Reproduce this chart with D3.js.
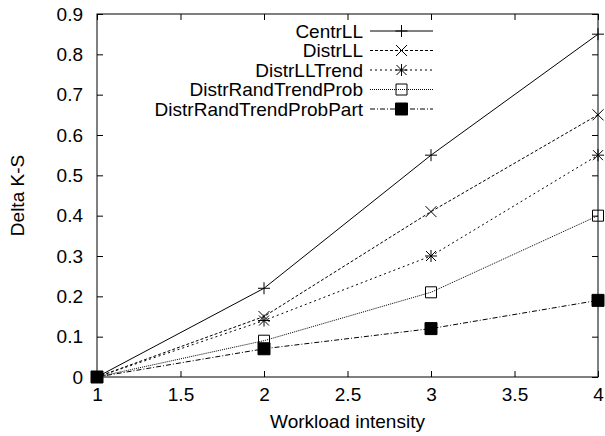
<!DOCTYPE html>
<html>
<head>
<meta charset="utf-8">
<script src="https://d3js.org/d3.v7.min.js"></script>
<style>
  body { margin: 0; background: #fff; }
  svg { display: block; font-family: "Liberation Sans", Arial, sans-serif; }
  .axis text { font-size: 19px; fill: #000; }
  .axis line { stroke: #000; }
  .axis path { display: none; }
</style>
</head>
<body>
<script>
var width = 605, height = 436;

// data
var workload = [1, 2, 3, 4];
var seriesNames = ["CentrLL", "DistrLL", "DistrLLTrend", "DistrRandTrendProb", "DistrRandTrendProbPart"];
var centrLL = [0, 0.22, 0.55, 0.85];
var distrLL = [0, 0.15, 0.41, 0.65];
var distrLLTrend = [0, 0.14, 0.30, 0.55];
var distrRandTrendProb = [0, 0.09, 0.21, 0.40];
var distrRandTrendProbPart = [0, 0.07, 0.12, 0.19];
var xTicks = [1, 1.5, 2, 2.5, 3, 3.5, 4];
var yTicks = [0, 0.1, 0.2, 0.3, 0.4, 0.5, 0.6, 0.7, 0.8, 0.9];

var allValues = [centrLL, distrLL, distrLLTrend, distrRandTrendProb, distrRandTrendProbPart];
var dashes = [null, "3,2", "2,3", "1,1", "5,2,1,2"];
var markers = ["plus", "cross", "star", "box", "fbox"];

var plotL = 97, plotR = 598, plotT = 14, plotB = 377;

var x = d3.scaleLinear().domain([1, 4]).range([plotL, plotR]);
var y = d3.scaleLinear().domain([0, 0.9]).range([plotB, plotT]);

var svg = d3.select("body").append("svg")
  .attr("width", width)
  .attr("height", height);

var yFmt = function(d){ return d === 0 ? "0" : d3.format(".1f")(d); };

// axes, ticks pointing inward
svg.append("g").attr("class", "axis")
  .attr("transform", "translate(0," + plotB + ")")
  .call(d3.axisBottom(x).tickValues(xTicks).tickFormat(d3.format("")).tickSize(-6).tickPadding(11));
svg.append("g").attr("class", "axis")
  .attr("transform", "translate(0," + plotT + ")")
  .call(d3.axisTop(x).tickValues(xTicks).tickFormat("").tickSize(-6));
svg.append("g").attr("class", "axis")
  .attr("transform", "translate(" + plotL + ",0)")
  .call(d3.axisLeft(y).tickValues(yTicks).tickFormat(yFmt).tickSize(-6).tickPadding(14));
svg.append("g").attr("class", "axis")
  .attr("transform", "translate(" + plotR + ",0)")
  .call(d3.axisRight(y).tickValues(yTicks).tickFormat("").tickSize(-6));

svg.append("rect")
  .attr("x", plotL).attr("y", plotT)
  .attr("width", plotR - plotL).attr("height", plotB - plotT)
  .attr("fill", "none").attr("stroke", "#000");

// axis titles
svg.append("text")
  .attr("x", (plotL + plotR) / 2).attr("y", 428)
  .attr("text-anchor", "middle")
  .style("font-size", "19px")
  .text("Workload intensity");
svg.append("text")
  .attr("transform", "translate(24," + ((plotT + plotB) / 2) + ") rotate(-90)")
  .attr("text-anchor", "middle")
  .style("font-size", "19px")
  .text("Delta K-S");

var markerPath = function(type){
  if (type === "plus") return "M-6,0H6M0,-6V6";
  if (type === "cross") return "M-5.5,-5.5L5.5,5.5M-5.5,5.5L5.5,-5.5";
  if (type === "star") return "M-6,0H6M0,-6V6M-5,-5L5,5M-5,5L5,-5";
  if (type === "fbox") return "M-6,-6H6V6H-6Z";
  return "M-5.5,-5.5H5.5V5.5H-5.5Z";
};

var drawMarker = function(g, type, cx, cy){
  g.append("path")
    .attr("d", markerPath(type))
    .attr("transform", "translate(" + cx + "," + cy + ")")
    .attr("stroke", "#000")
    .attr("stroke-width", 1)
    .attr("fill", type === "fbox" ? "#000" : "none");
};

var line = d3.line()
  .x(function(d){ return x(d[0]); })
  .y(function(d){ return y(d[1]); });

allValues.forEach(function(vals, i){
  var pts = workload.map(function(w, j){ return [w, vals[j]]; });
  var g = svg.append("g");
  g.append("path")
    .attr("d", line(pts))
    .attr("fill", "none")
    .attr("stroke", "#000")
    .attr("stroke-width", 1)
    .attr("stroke-dasharray", dashes[i]);
  pts.forEach(function(p){
    drawMarker(g, markers[i], x(p[0]), y(p[1]));
  });

  // legend row
  var ly = 31 + i * 19.5;
  g.append("text")
    .attr("x", 363).attr("y", ly)
    .attr("text-anchor", "end")
    .attr("dominant-baseline", "central")
    .style("font-size", "19px")
    .text(seriesNames[i]);
  g.append("line")
    .attr("x1", 370).attr("x2", 433)
    .attr("y1", ly).attr("y2", ly)
    .attr("stroke", "#000")
    .attr("stroke-dasharray", dashes[i]);
  drawMarker(g, markers[i], 401.5, ly);
});
</script>
</body>
</html>
